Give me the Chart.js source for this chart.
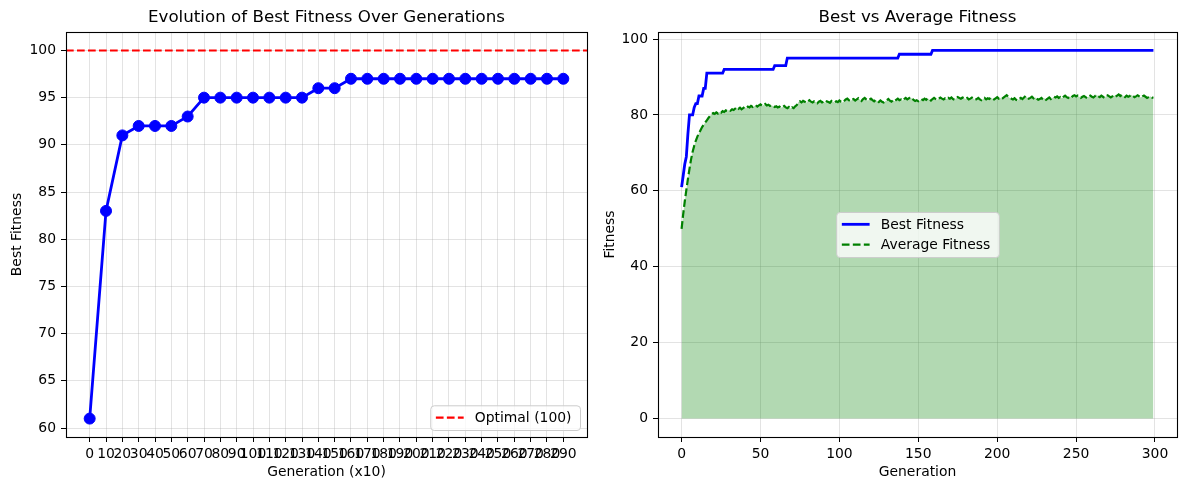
<!DOCTYPE html>
<html lang="en">
<head>
  <meta charset="UTF-8" />
  <title>Fitness Evolution</title>
  <script src="https://cdn.jsdelivr.net/npm/chart.js@4.4.1/dist/chart.umd.min.js"></script>
  <style>
    body {
      margin: 0;
      background: #fff;
      width: 1189px;
      height: 490px;
      overflow: hidden;
      position: relative;
    }
    canvas { position: absolute; top: 0; }
    #bestChart { left: 0; }
    #avgChart { left: 595px; }
  </style>
</head>
<body>
  <canvas id="bestChart" width="595" height="490"></canvas>
  <canvas id="avgChart" width="594" height="490"></canvas>

  <script>
    // Left panel: best fitness sampled every 10 generations
    const sampledGens = [0, 10, 20, 30, 40, 50, 60, 70, 80, 90, 100, 110, 120, 130, 140,
                         150, 160, 170, 180, 190, 200, 210, 220, 230, 240, 250, 260, 270, 280, 290];
    const sampledBest = [61, 83, 91, 92, 92, 92, 93, 95, 95, 95, 95, 95, 95, 95, 96,
                         96, 97, 97, 97, 97, 97, 97, 97, 97, 97, 97, 97, 97, 97, 97];
    const optimalValue = 100;
    const leftYTicks = [60, 65, 70, 75, 80, 85, 90, 95, 100];

    // Right panel: best fitness (change points) and average fitness per generation
    const stepGens = [0, 1, 2, 3, 4, 5, 7, 8, 9, 10, 11, 13, 14, 15, 16, 26, 27, 58, 59, 66, 67, 137, 138, 158, 159, 299];
    const stepBest = [61, 64, 67, 69, 75, 80, 80, 82, 83, 83, 85, 85, 87, 87, 91, 91, 92, 92, 93, 93, 95, 95, 96, 96, 97, 97];
    const avgFitness = [
      50.0, 53.8, 57.2, 60.2, 63.1, 65.8, 68.3, 70.3, 71.9, 73.2,
      74.3, 75.2, 76.0, 76.8, 77.4, 78.0, 78.6, 79.2, 79.7, 80.2,
      80.5, 80.3, 80.7, 80.4, 80.8, 80.6, 81.0, 80.8, 81.2, 81.0,
      81.3, 81.1, 81.5, 81.3, 81.7, 82.0, 81.6, 81.9, 81.5, 81.8,
      82.1, 81.8, 82.2, 82.0, 82.4, 82.1, 82.3, 82.6, 82.2, 82.5,
      82.8, 82.4, 82.6, 82.9, 82.5, 82.7, 82.4, 82.6, 82.3, 82.1,
      82.3, 82.0, 82.2, 81.9, 82.1, 82.4, 82.0, 81.8, 82.1, 81.7,
      82.0, 81.8, 82.3, 82.6, 83.4, 83.6, 83.3, 83.7, 83.5, 83.2,
      83.6, 83.9, 83.5, 83.3, 83.6, 83.4, 83.1, 83.5, 83.7, 83.3,
      83.5, 83.2, 83.6, 83.4, 83.2, 83.7, 83.5, 83.3, 83.6, 83.4,
      83.8, 83.5, 83.3, 83.7, 84.1, 84.3, 83.9, 83.6, 84.0, 84.2,
      83.8, 84.1, 84.4, 84.0, 83.7, 84.2, 84.5, 84.1, 83.8, 84.0,
      84.3, 83.9, 83.6, 84.0, 83.7, 83.4, 83.8, 83.5, 83.3, 83.6,
      83.9, 84.2, 83.8, 83.5, 83.9, 83.6, 84.0, 84.3, 83.9, 84.1,
      83.8, 84.2, 84.5, 84.1, 84.4, 84.7, 84.3, 84.0, 83.7, 83.9,
      83.6, 83.8, 84.2, 83.9, 84.3, 84.0, 84.4, 84.1, 83.8, 84.2,
      84.5, 84.2, 84.0, 84.3, 84.6, 84.3, 84.1, 84.4, 84.2, 84.5,
      84.3, 84.6, 84.2, 84.0, 84.4, 84.7, 84.5, 84.3, 84.6, 84.4,
      84.2, 84.5, 84.1, 84.3, 84.6, 84.3, 84.0, 84.2, 84.5, 84.1,
      83.9, 84.2, 84.5, 84.1, 84.4, 84.2, 84.6, 84.3, 84.1, 84.4,
      84.7, 84.3, 84.5, 84.2, 84.6, 84.9, 85.2, 84.8, 84.5, 84.3,
      84.1, 84.4, 84.0, 83.8, 84.2, 84.5, 84.2, 84.6, 85.0, 84.6,
      84.3, 84.5, 84.8, 84.4, 84.7, 84.3, 84.0, 84.2, 84.5, 84.1,
      84.4, 84.0, 84.3, 84.6, 84.2, 84.5, 84.8, 84.6, 84.9, 84.5,
      84.7, 84.4, 84.8, 85.1, 84.7, 84.5, 84.9, 84.6, 85.0, 85.2,
      84.9, 85.1, 84.8, 84.5, 84.8, 85.0, 84.7, 84.4, 84.8, 85.1,
      84.8, 84.6, 85.0, 85.3, 84.9, 84.7, 85.1, 84.8, 84.5, 84.9,
      85.2, 84.9, 84.6, 84.9, 85.2, 84.8, 85.1, 85.4, 85.0, 85.3,
      85.0, 84.7, 85.1, 84.8, 85.0, 85.3, 85.0, 84.7, 84.9, 85.2,
      84.9, 84.6, 84.9, 85.1, 84.8, 84.5, 84.7, 84.9, 84.6, 84.5
    ];
    const rightXTicks = [0, 50, 100, 150, 200, 250, 300];
    const rightYTicks = [0, 20, 40, 60, 80, 100];

    Chart.defaults.font.family = "'DejaVu Sans', sans-serif";
    Chart.defaults.font.size = 13.9;
    Chart.defaults.color = '#000';

    const FS = 13.9;
    const gridStyle = {
      color: 'rgba(176,176,176,0.35)',
      lineWidth: 1,
      tickColor: '#000',
      tickLength: 5,
      tickWidth: 1
    };

    // matplotlib style 5% margins
    function padRange(values) {
      const lo = Math.min(...values), hi = Math.max(...values);
      const m = (hi - lo) * 0.05;
      return { min: lo - m, max: hi + m };
    }

    function fixedTicks(values) {
      return scale => { scale.ticks = values.map(v => ({ value: v })); };
    }

    // black box round the plot area
    const framePlugin = {
      id: 'frame',
      afterDatasetsDraw(chart) {
        const { ctx, chartArea: a } = chart;
        ctx.save();
        ctx.strokeStyle = '#000';
        ctx.lineWidth = 1.1;
        ctx.strokeRect(Math.round(a.left) + 0.5, Math.round(a.top) + 0.5,
                       Math.round(a.right - a.left), Math.round(a.bottom - a.top));
        ctx.restore();
      }
    };

    function legendPlugin(items, where) {
      return {
        id: 'boxLegend',
        afterDraw(chart) {
          const { ctx, chartArea: a } = chart;
          ctx.save();
          ctx.font = FS + "px 'DejaVu Sans', sans-serif";
          const textW = Math.max(...items.map(it => ctx.measureText(it.label).width));
          const pad = 5.6, handle = 27.8, gap = 11.1, rowH = 13.5, spacing = 6.9;
          const w = pad + handle + gap + textW + 8.5;
          const h = pad * 2 + rowH * items.length + spacing * (items.length - 1);
          let x, y;
          if (where === 'lowerRight') {
            x = a.right - 7 - w;
            y = a.bottom - 7 - h;
          } else {
            x = (a.left + a.right) / 2 - w / 2;
            y = (a.top + a.bottom) / 2 - h / 2;
          }
          ctx.beginPath();
          ctx.roundRect(x + 0.5, y + 0.5, w, h, 3.5);
          ctx.fillStyle = 'rgba(255,255,255,0.8)';
          ctx.fill();
          ctx.strokeStyle = '#cccccc';
          ctx.lineWidth = 1;
          ctx.stroke();
          items.forEach((it, i) => {
            const cy = y + pad + rowH / 2 + i * (rowH + spacing);
            ctx.beginPath();
            ctx.setLineDash(it.dash || []);
            ctx.strokeStyle = it.color;
            ctx.lineWidth = it.width;
            ctx.moveTo(x + pad, cy);
            ctx.lineTo(x + pad + handle, cy);
            ctx.stroke();
            ctx.setLineDash([]);
            ctx.fillStyle = '#000';
            ctx.textBaseline = 'middle';
            ctx.textAlign = 'left';
            ctx.fillText(it.label, x + pad + handle + gap, cy + 1);
          });
          ctx.restore();
        }
      };
    }

    const optimalLinePlugin = {
      id: 'optimalLine',
      afterDatasetsDraw(chart) {
        const { ctx, chartArea: a } = chart;
        const y = chart.scales.y.getPixelForValue(optimalValue);
        ctx.save();
        ctx.beginPath();
        ctx.setLineDash([7.7, 3.3]);
        ctx.strokeStyle = '#ff0000';
        ctx.lineWidth = 2.1;
        ctx.moveTo(a.left, y);
        ctx.lineTo(a.right, y);
        ctx.stroke();
        ctx.restore();
      }
    };

    function titleOpts(text) {
      return {
        display: true,
        text: text,
        fullSize: false,
        color: '#000',
        font: { size: 16.7, weight: 'normal' },
        padding: { top: 8, bottom: 4 }
      };
    }

    // ---- left chart ----
    const leftX = padRange(sampledGens);
    const leftY = padRange(sampledBest.concat([optimalValue]));

    new Chart(document.getElementById('bestChart'), {
      type: 'line',
      data: {
        datasets: [{
          label: 'Best Fitness',
          data: sampledGens.map((g, i) => ({ x: g, y: sampledBest[i] })),
          borderColor: '#0000ff',
          backgroundColor: '#0000ff',
          borderWidth: 2.8,
          pointRadius: 5.5,
          pointBorderWidth: 1,
          pointBackgroundColor: '#0000ff',
          pointBorderColor: '#0000ff',
          tension: 0
        }]
      },
      options: {
        responsive: false,
        animation: false,
        devicePixelRatio: 1,
        events: [],
        layout: { padding: { top: 0, left: 0, right: 8, bottom: 0 } },
        plugins: {
          legend: { display: false },
          tooltip: { enabled: false },
          title: titleOpts('Evolution of Best Fitness Over Generations')
        },
        scales: {
          x: {
            type: 'linear',
            min: leftX.min,
            max: leftX.max,
            afterBuildTicks: fixedTicks(sampledGens),
            afterFit: s => { s.height = 53; },
            grid: gridStyle,
            border: { display: false },
            ticks: { autoSkip: false, maxRotation: 0, minRotation: 0, padding: 4 },
            title: { display: true, text: 'Generation (x10)', padding: { top: 0, bottom: 9 } }
          },
          y: {
            min: leftY.min,
            max: leftY.max,
            afterBuildTicks: fixedTicks(leftYTicks),
            afterFit: s => { s.width = 66; },
            grid: gridStyle,
            border: { display: false },
            ticks: { padding: 5 },
            title: { display: true, text: 'Best Fitness', padding: { top: 8.6, bottom: 0 } }
          }
        }
      },
      plugins: [optimalLinePlugin, framePlugin,
        legendPlugin([{ label: 'Optimal (100)', color: '#ff0000', width: 2.1, dash: [7.7, 3.3] }], 'lowerRight')]
    });

    // ---- right chart ----
    const avgGens = avgFitness.map((v, i) => i);
    const rightX = padRange(avgGens);
    const rightY = padRange(stepBest.concat(avgFitness, [0]));

    new Chart(document.getElementById('avgChart'), {
      type: 'line',
      data: {
        datasets: [{
          label: 'Best Fitness',
          data: stepGens.map((g, i) => ({ x: g, y: stepBest[i] })),
          borderColor: '#0000ff',
          borderWidth: 2.8,
          pointRadius: 0,
          tension: 0,
          fill: false
        }, {
          label: 'Average Fitness',
          data: avgGens.map(g => ({ x: g, y: avgFitness[g] })),
          borderColor: '#008000',
          backgroundColor: 'rgba(0,128,0,0.3)',
          borderWidth: 2.2,
          borderDash: [7.7, 3.3],
          pointRadius: 0,
          tension: 0,
          fill: 'origin'
        }]
      },
      options: {
        responsive: false,
        animation: false,
        devicePixelRatio: 1,
        events: [],
        layout: { padding: { top: 0, left: 0, right: 12, bottom: 0 } },
        plugins: {
          legend: { display: false },
          tooltip: { enabled: false },
          title: titleOpts('Best vs Average Fitness')
        },
        scales: {
          x: {
            type: 'linear',
            min: rightX.min,
            max: rightX.max,
            afterBuildTicks: fixedTicks(rightXTicks),
            afterFit: s => { s.height = 53; },
            grid: gridStyle,
            border: { display: false },
            ticks: { autoSkip: false, maxRotation: 0, minRotation: 0, padding: 4 },
            title: { display: true, text: 'Generation', padding: { top: 0, bottom: 9 } }
          },
          y: {
            min: rightY.min,
            max: rightY.max,
            afterBuildTicks: fixedTicks(rightYTicks),
            afterFit: s => { s.width = 63; },
            grid: gridStyle,
            border: { display: false },
            ticks: { padding: 5 },
            title: { display: true, text: 'Fitness', padding: { top: 6.6, bottom: 0 } }
          }
        }
      },
      plugins: [framePlugin,
        legendPlugin([
          { label: 'Best Fitness', color: '#0000ff', width: 2.8 },
          { label: 'Average Fitness', color: '#008000', width: 2.2, dash: [7.7, 3.3] }
        ], 'center')]
    });
  </script>
</body>
</html>
